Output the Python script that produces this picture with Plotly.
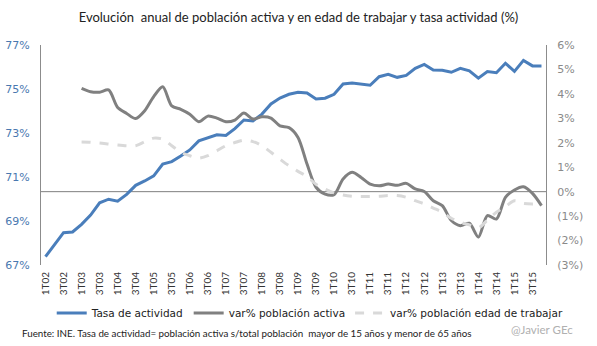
import plotly.graph_objects as go

quarters = [f"{q}T{y:02d}" for y in range(2, 16) for q in range(1, 5)]

tasa_actividad = [67.38, 67.91, 68.47, 68.50, 68.85, 69.27, 69.83, 69.99, 69.90, 70.21,
                  70.62, 70.82, 71.05, 71.59, 71.70, 71.95, 72.23, 72.64, 72.79, 72.92,
                  72.89, 73.20, 73.59, 73.55, 73.86, 74.32, 74.59, 74.76, 74.85, 74.82,
                  74.55, 74.58, 74.76, 75.23, 75.27, 75.23, 75.17, 75.56, 75.67, 75.53,
                  75.62, 75.94, 76.12, 75.86, 75.85, 75.76, 75.94, 75.83, 75.49, 75.79,
                  75.74, 76.17, 75.80, 76.30, 76.05, 76.05]

var_activa = [None, None, None, None,
              4.23, 4.09, 4.07, 4.16, 3.44, 3.20, 2.99, 3.31, 3.89, 4.29,
              3.51, 3.37, 3.17, 2.86, 3.09, 3.01, 2.86, 2.93, 3.22, 2.97,
              3.06, 3.01, 2.69, 2.62, 2.22, 1.13, 0.18, -0.10, -0.12, 0.52,
              0.79, 0.58, 0.31, 0.24, 0.31, 0.26, 0.34, 0.11, 0.01, -0.37,
              -0.57, -1.18, -1.39, -1.29, -1.86, -0.98, -1.12, -0.23, 0.07, 0.20,
              -0.07, -0.57]

var_edad_trabajar = [None, None, None, None,
                     2.03, 2.02, 1.99, 1.95, 1.91, 1.88, 1.88, 2.04, 2.19, 2.15,
                     1.88, 1.61, 1.47, 1.37, 1.47, 1.67, 1.88, 2.01, 2.11, 2.05,
                     1.88, 1.61, 1.33, 1.06, 0.83, 0.62, 0.30, 0.11, -0.05, -0.14,
                     -0.19, -0.20, -0.20, -0.19, -0.16, -0.16, -0.23, -0.37, -0.50, -0.67,
                     -0.84, -1.09, -1.25, -1.36, -1.48, -1.16, -0.84, -0.61, -0.37, -0.48,
                     -0.50, -0.48]

left_ticks = [67, 69, 71, 73, 75, 77]
right_ticks = [-3, -2, -1, 0, 1, 2, 3, 4, 5, 6]
right_labels = ["(3%)", "(2%)", "(1%)", "0%", "1%", "2%", "3%", "4%", "5%", "6%"]

fig = go.Figure()
fig.add_trace(go.Scatter(x=quarters, y=tasa_actividad, name="Tasa de actividad",
                         mode="lines", line=dict(color="#4a7ebb", width=3)))
fig.add_trace(go.Scatter(x=quarters, y=var_activa, name="var% población activa",
                         mode="lines", yaxis="y2",
                         line=dict(color="#808080", width=3, shape="spline", smoothing=0.8)))
fig.add_trace(go.Scatter(x=quarters, y=var_edad_trabajar, name="var% población edad de trabajar",
                         mode="lines", yaxis="y2",
                         line=dict(color="#d9d9d9", width=3, dash="dash", shape="spline", smoothing=0.8)))

fig.update_layout(
    width=597, height=346,
    margin=dict(l=41, r=51, t=45, b=81, autoexpand=False),
    paper_bgcolor="white", plot_bgcolor="white",
    font=dict(family="DejaVu Sans", size=11),
    title=dict(text="Evolución  anual de población activa y en edad de trabajar y tasa actividad (%)",
               x=0.5, xanchor="center", y=0.95, yanchor="middle",
               font=dict(family="Lato", size=13, color="#222222")),
    xaxis=dict(type="category", range=[-0.5, 55.5], tickmode="array",
               tickvals=quarters[::2], ticktext=quarters[::2], tickangle=-90,
               showgrid=False, zeroline=False, showline=False, ticks="", automargin=False,
               ticklabelstandoff=4,
               tickfont=dict(family="Lato", size=10, color="#333333")),
    yaxis=dict(range=[67, 77], tickvals=left_ticks, ticktext=[f"{v}%" for v in left_ticks],
               showgrid=False, zeroline=False, showline=True, linecolor="#8c8c8c", linewidth=1,
               ticks="", ticklabelstandoff=8, automargin=False,
               tickfont=dict(family="DejaVu Sans", size=11, color="#4a78b0")),
    yaxis2=dict(range=[-3, 6], overlaying="y", side="right", tickvals=right_ticks,
                ticktext=right_labels, showgrid=False, zeroline=False, showline=True,
                linecolor="#8c8c8c", linewidth=1, ticks="", ticklabelstandoff=8, automargin=False,
                tickfont=dict(family="DejaVu Sans", size=11, color="#8a8a8a")),
    legend=dict(orientation="h", x=1.045, xanchor="right", y=-0.218, yanchor="middle",
                font=dict(family="DejaVu Sans", size=10.5, color="#222222"),
                itemwidth=30, tracegroupgap=0, bgcolor="rgba(0,0,0,0)"),
    showlegend=True,
)

fig.add_shape(type="line", xref="paper", x0=0, x1=1, yref="y2", y0=0, y1=0,
              line=dict(color="#7f7f7f", width=1), layer="below")

fig.add_annotation(text="Fuente: INE. Tasa de actividad= población activa s/total población  mayor de 15 años y menor de 65 años",
                   xref="paper", yref="paper", x=-0.0416, y=-0.309, xanchor="left", yanchor="middle",
                   showarrow=False, font=dict(family="Lato", size=9.8, color="#222222"))
fig.add_annotation(text="@Javier GEc", xref="paper", yref="paper", x=1.057, y=-0.295,
                   xanchor="right", yanchor="middle", showarrow=False,
                   font=dict(family="Lato", size=11.5, color="#b0b0b0"))

fig.write_html("out.html")
